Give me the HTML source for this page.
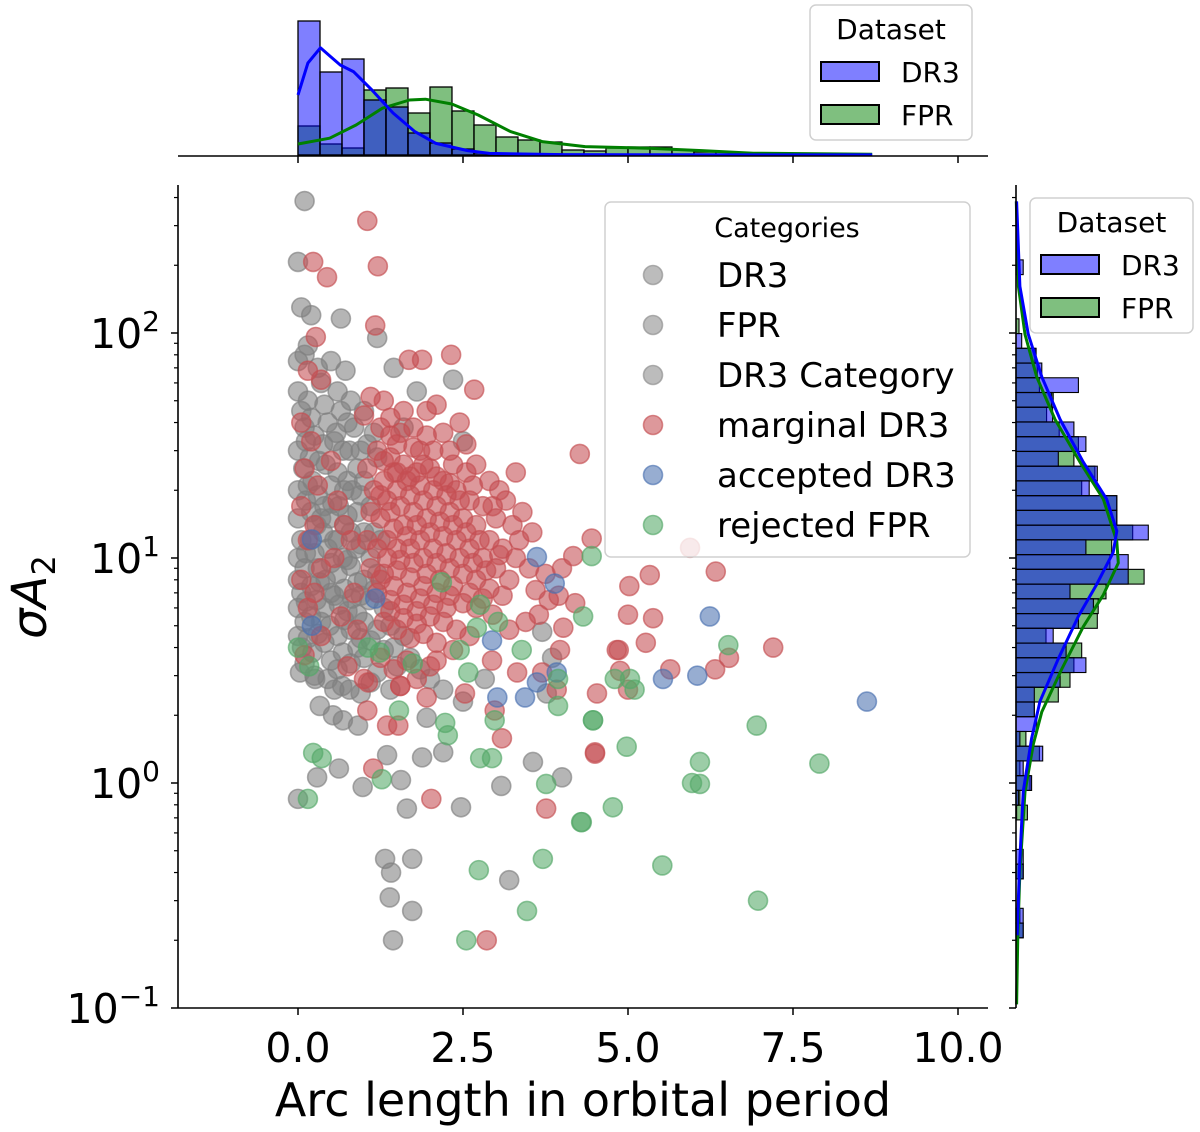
<!DOCTYPE html>
<html><head><meta charset="utf-8"><style>
html,body{margin:0;padding:0;background:#fff;}
svg{display:block;font-family:"DejaVu Sans","Liberation Sans",sans-serif;}
</style></head><body>
<svg id="chart" width="1200" height="1132" viewBox="0 0 1200 1132">
<g id="topHist"></g>
<g id="rightHist"></g>
<g id="points"></g>
<g id="axes"></g>
<g id="legends"></g>
</svg>
<script>
// ---------- data ----------
const xTicks = [0, 2.5, 5, 7.5, 10];
const xTickLabels = ["0.0", "2.5", "5.0", "7.5", "10.0"];
const yDecades = [-1, 0, 1, 2];
const yTickLabels = ["-1", "0", "1", "2"];

const topBinWidth = 0.3333;
const topBlueCounts = [67,41.5,48,27.5,24,11,6,3,1,0.5,0,0.5,0,0,0,0,0,0,0,0,0,0,0,0,0,0.5];
const topGreenCounts = [14.5,5.5,3.5,32.5,33.5,21,34,22,15,9,7.5,6.5,2.5,2,3.5,4,4,2.5,1.5,1.5,1,1,0.5,0.5,0.5,0.5];
const topBlueKdeX = [0,0.15,0.34,0.5,0.64,0.84,1.12,1.44,1.77,2.09,2.57,2.9,4,6,8.7];
const topBlueKdeY = [30,46,53.6,49,45,41.7,32.5,21,11.7,5.8,2.2,0.8,0.2,0.1,0.05];
const topGreenKdeX = [0,0.48,0.88,1.28,1.69,1.93,2.33,2.73,3.22,3.7,4.35,5.31,6.12,6.9,8.7];
const topGreenKdeY = [5.5,8.4,15,23.4,27.5,27.9,25.5,20,11.7,6.7,4.2,3.4,2.2,0.9,0.4];

const rightBinTop = 2.325;
const rightBinWidth = 0.0655;
const rightBlueCounts = [2.4,0,0,0,0,1.9,6.7,8.6,20.8,11.9,12.2,19.3,23.3,14.1,27.1,24.4,33.6,33.6,44.1,23.3,37.4,37.4,18,25.8,20.8,12.4,16.7,23.3,14.7,6.1,6.1,6.9,1.3,8.9,2.4,5.2,0.8,0.2,0,0,2.4,2.4,0,0,2.4,2.4];
const rightGreenCounts = [0,0,0,0,1,0,6.3,7.1,7.8,12.4,10.2,14.4,20.8,19.3,26.3,21.9,33.6,33.6,38.9,31.9,31.3,42.7,30,27.4,27.1,10,21.9,19.3,18,14.1,6.1,0,3.3,7.8,1.3,4.7,1.3,3.8,0,0,0,2.4,0,0,1.3,2.4];
const rightBlueKdeLog = [2.585,2.207,1.994,1.805,1.616,1.427,1.262,1.12,1.025,0.883,0.741,0.552,0.363,0.198,-0.039,-0.393,-0.677];
const rightBlueKdeD = [0.2,1.3,4.1,8.6,14.7,22.4,30.2,33.6,32.4,26.9,20.8,14.1,8,5.2,2.4,1.1,0.4];
const rightGreenKdeLog = [2.585,2.207,1.994,1.805,1.616,1.427,1.262,1.073,0.978,0.836,0.694,0.505,0.316,0.174,-0.039,-0.393,-0.677,-0.984];
const rightGreenKdeD = [0.1,0.8,3,6.9,13,21.3,29.1,33.6,34.1,29.1,22.4,15.2,8.6,5.8,3,1.3,0.6,0.2];

const grayPoints = [[0,55],[0.05,45],[0.1,38],[0,30],[0.08,25],[0,20],[0.12,18],[0,15],[0.05,12],[0,10],[0.1,9],[0,8],[0.05,7],[0,6],[0.1,5.2],[0,4.5],[0.06,4],[0.15,50],[0.2,42],[0.25,35],[0.18,28],[0.22,22],[0.3,19],[0.2,16],[0.28,14],[0.18,12],[0.25,10.5],[0.3,9],[0.2,7.5],[0.28,6.5],[0.2,5.5],[0.3,4.6],[0.22,3.8],[0.35,60],[0.4,48],[0.45,40],[0.38,32],[0.42,26],[0.5,21],[0.4,17],[0.48,15],[0.38,13],[0.45,11],[0.5,9.5],[0.42,8],[0.5,7],[0.4,6],[0.48,5],[0.4,4.2],[0.5,3.5],[0.6,55],[0.65,45],[0.58,36],[0.68,30],[0.6,24],[0.7,20],[0.62,17],[0.7,14],[0.6,12],[0.68,10],[0.6,8.5],[0.7,7.3],[0.62,6.2],[0.7,5.3],[0.6,4.5],[0.68,3.8],[0.6,3.2],[0.8,50],[0.85,38],[0.78,30],[0.9,25],[0.82,20],[0.9,16],[0.8,13],[0.88,11],[0.8,9.2],[0.9,7.8],[0.82,6.6],[0.9,5.6],[0.8,4.8],[0.9,4],[0.8,3.4],[1.0,45],[1.05,32],[1.0,22],[1.1,17],[1.0,13],[1.1,10],[1.0,8],[1.08,6.5],[1.0,5.2],[1.1,4.3],[1.0,3.6],[1.2,28],[1.25,12],[1.2,8.5],[1.3,6],[1.2,4.8],[1.3,3.9],[1.2,3.1],[1.4,5],[1.45,4],[1.5,3.3],[1.6,4.5],[1.7,3.6],[1.85,3.2],[2.0,2.9],[1.4,2.6],[0.1,3.4],[0.25,3.0],[0.45,2.9],[0.55,2.6],[0.78,2.6],[0.95,2.5],[1.1,2.8],[0.3,70],[0.1,80],[0.15,88],[0,75],[0.5,75],[0.05,130],[0.2,120],[0,207],[0.1,386],[0.65,116],[1.2,95],[0.72,68],[2.35,62],[2.5,33],[1.45,70],[3.7,4.7],[3.85,3.6],[1.8,55],[1.6,38],
[0.03,3.1],[0.26,2.9],[0.67,2.7],[0.33,2.2],[0.53,2.0],[0.68,1.9],[0.91,1.8],[1.35,1.33],[1.88,1.3],[2.2,1.37],[1.95,1.95],[0.29,1.06],[0.62,1.16],[0.98,0.96],[1.56,1.03],[0,0.85],[1.65,0.77],[2.47,0.78],[3.08,0.97],[3.56,1.24],[4.0,1.06],[1.32,0.46],[1.73,0.46],[1.41,0.4],[3.2,0.37],[1.39,0.31],[1.73,0.27],[1.44,0.2],[2.5,2.3],[2.83,2.9],[2.2,2.6],[3.77,2.5],
[0.12,33],[0.32,27],[0.15,21],[0.35,15],[0.12,10.5],[0.33,7.8],[0.12,6.4],[0.55,33],[0.52,17.5],[0.55,12],[0.55,6.8],[0.75,40],[0.75,22],[0.75,15.5],[0.75,9.8],[0.75,5.8],[0.95,30],[0.95,19],[0.95,11.5],[0.95,6.8],[0.95,4.4],[1.15,36],[1.15,13],[1.15,7.2],[0.35,5.2],[0.15,4.4]];

const redPoints = [[1.05,315],[1.21,198],[0.23,207],[0.44,177],[0.27,96],[1.17,108],[1.68,76],[1.88,76],[2.32,80],[2.67,56],[4.27,29],[0.15,68],[0.35,62],[0.05,40],[0.2,33],[0.1,25],[0.3,21],[0.05,17],[0.25,14],[0.15,12],[0.35,9],[0.05,8],[0.25,7],[0.15,6],[0.35,4.5],[0.1,3.7],[0.5,27],[0.6,18],[0.7,14],[0.55,10],[0.8,12],[0.85,7],[0.65,5.5],[0.9,4.8],[0.75,3.3],[1.0,43],[1.1,52],[1.3,50],[1.25,38],[1.4,42],[1.5,32],[1.6,45],[1.75,38],[1.85,30],[1.95,45],[2.1,48],[2.2,36],[2.3,30],[2.45,40],[2.55,24],[2.7,26],[2.9,22],[3.05,20],[3.3,24],[3.4,16],[3.55,13],[3.25,14],[3.0,15],[2.8,17],[2.6,18],[2.4,20],[2.2,22],[2.0,25],[1.8,24],[1.6,26],[1.4,28],[1.2,30],[1.05,25],[1.15,20],[1.3,22],[1.5,20],[1.7,19],[1.9,18],[2.1,17],[2.3,16],[2.5,15],[2.7,14],[2.9,12],[3.1,11],[3.3,10],[3.5,9],[1.1,16],[1.25,15],[1.4,16],[1.6,14],[1.8,14],[2.0,13],[2.2,12.5],[2.4,12],[2.6,11],[2.8,10],[3.0,9],[3.2,8],[1.05,12],[1.2,11],[1.35,12],[1.5,11],[1.7,11],[1.9,10],[2.1,9.5],[2.3,9],[2.5,8.5],[2.7,8],[2.9,7.3],[3.1,6.8],[1.1,9],[1.3,8.5],[1.5,8.8],[1.7,8.2],[1.9,7.5],[2.1,7],[2.3,6.8],[2.5,6.3],[2.7,6],[2.95,5.6],[1.2,7],[1.4,6.5],[1.6,6.2],[1.8,5.8],[2.0,5.5],[2.2,5.2],[2.4,4.8],[2.6,4.5],[3.2,4.8],[3.45,5.2],[1.3,5.2],[1.5,4.8],[1.7,4.4],[1.9,4.6],[2.1,4.2],[2.35,3.9],[1.25,3.6],[1.45,3.2],[1.65,3.5],[1.8,2.9],[1.55,2.7],[1.0,2.9],[2.0,3.3],[3.6,7.2],[3.8,6.5],[3.65,5.6],[3.95,6.8],[3.75,8.5],[4.0,9],[1.35,18],[1.55,17],[1.75,16],[1.95,15],[2.15,14.5],[2.35,14],[2.55,13],[2.75,12],[1.45,24],[1.65,22],[1.85,21],[2.05,20],[2.25,19],[2.45,18],[1.95,35],[1.55,36],[2.35,26],[2.65,21],[2.95,17],[3.15,18],
[4.45,12.2],[4.17,10.2],[5.33,8.4],[5.02,7.5],[6.33,8.7],[5.0,5.6],[5.38,5.4],[5.27,4.2],[4.86,3.9],[5.64,3.2],[6.32,3.2],[6.53,3.6],[7.2,4.0],[4.53,2.5],[5.0,2.6],[4.5,1.37],[4.2,6.3],[4.02,4.9],[4.88,3.15],[5.94,11.1],
[1.05,2.1],[1.14,1.16],[2.02,0.85],[2.86,0.2],[3.76,0.77],[4.5,1.35],[3.09,1.58],[1.95,2.4],[1.35,1.8],[1.52,1.8],[2.98,2.1],[3.32,3.1],[3.7,3.1],[2.53,2.5],[3.92,2.6],[1.06,2.8],[1.55,2.7],[2.1,3.5],[2.94,3.5],[3.97,3.9],[4.83,3.9],
[1.3,27],[1.5,24],[1.7,23],[1.9,26],[2.1,23],[2.3,21.5],[1.25,19],[1.45,13.5],[1.65,12.5],[1.85,12],[2.05,11],[2.25,10.5],[2.45,10],[1.35,10],[1.55,9.8],[1.75,9.5],[1.95,8.5],[2.15,8],[2.35,7.5],[1.25,8],[1.45,7.5],[1.65,7],[1.85,6.6],[2.05,6.2],[2.25,6],[1.4,5.8],[1.6,5.4],[1.8,5.1],[2.6,7],[2.8,6.6],[2.65,9.5],[2.85,8.8],[3.05,10.3],[3.35,12],[1.75,31],[2.05,30],[2.55,32],[1.4,35]];

const bluePoints = [[0.21,12.1],[1.17,6.6],[0.21,5.0],[3.62,10.1],[3.89,7.7],[6.24,5.5],[5.53,2.9],[6.05,3.0],[8.62,2.3],[3.02,2.4],[3.44,2.4],[3.62,2.8],[3.92,3.1],[2.94,4.3]];

const greenPoints = [[0,4.0],[0.17,3.3],[0.23,1.36],[0.36,1.29],[0.15,0.85],[1.27,1.04],[1.53,2.1],[1.74,3.4],[2.23,1.85],[2.27,1.63],[2.76,1.29],[2.94,1.29],[2.98,1.9],[3.76,0.99],[3.94,2.2],[4.47,1.9],[4.3,0.67],[4.77,0.78],[2.74,0.41],[3.71,0.46],[3.47,0.27],[2.55,0.2],[2.45,3.9],[2.58,3.1],[3.94,2.9],[3.39,3.9],[1.06,4.0],[1.24,3.8],
[4.45,10.2],[4.32,5.5],[6.52,4.1],[4.8,2.9],[5.1,2.6],[5.03,2.9],[4.47,1.9],[4.98,1.45],[6.09,1.24],[5.97,1.0],[6.09,0.99],[6.95,1.8],[7.9,1.22],[4.29,0.67],[5.52,0.43],[6.97,0.3],[2.18,7.8],[2.76,6.2],[3.03,5.2],[2.71,4.9]];

const categories = ["DR3","FPR","DR3 Category","marginal DR3","accepted DR3","rejected FPR"];
const categoryColors = ["#8c8c8c","#8c8c8c","#8c8c8c","#c44e52","#4c72b0","#55a868"];

// ---------- scales ----------
const NS = "http://www.w3.org/2000/svg";
const X0 = 298, XU = 66;
const xS = v => X0 + XU * v;
const Y100 = 333, DEC = 225;
const yLog = l => Y100 - DEC * (l - 2);
const yS = v => yLog(Math.log10(v));
const TOPBASE = 155, TOPU = 2;
const topY = c => TOPBASE - TOPU * c;
const RBASE = 1016, RU = 3;
const rightX = c => RBASE + RU * c;

function mk(tag, attrs, parent) {
  const e = document.createElementNS(NS, tag);
  for (const k in attrs) e.setAttribute(k, attrs[k]);
  parent.appendChild(e);
  return e;
}
function txt(parent, x, y, s, size, anchor) {
  const t = mk("text", {x: x, y: y, "font-size": size, "text-anchor": anchor || "start", fill: "#000"}, parent);
  t.textContent = s;
  return t;
}

// ---------- top histogram ----------
const gT = document.getElementById("topHist");
[[topGreenCounts, "rgba(0,128,0,0.5)", "fpr"], [topBlueCounts, "rgba(0,0,255,0.5)", "dr3"]].forEach(([arr, col, nm]) => {
  arr.forEach((c, i) => {
    if (c <= 0) return;
    const r = mk("rect", {x: xS(i * topBinWidth), y: topY(c), width: XU * topBinWidth, height: TOPU * c, fill: col, stroke: "#000", "stroke-width": 1.3}, gT);
    
    
  });
});
function topLine(xs, ys, col, nm) {
  const p = mk("polyline", {points: xs.map((x, i) => xS(x) + "," + topY(ys[i])).join(" "), fill: "none", stroke: col, "stroke-width": 3, "stroke-linejoin": "round"}, gT);
  
  
}
topLine(topGreenKdeX, topGreenKdeY, "#008000", "top-kde-fpr");
topLine(topBlueKdeX, topBlueKdeY, "#0000ff", "top-kde-dr3");

// ---------- right histogram ----------
const gR = document.getElementById("rightHist");
[[rightGreenCounts, "rgba(0,128,0,0.5)", "fpr"], [rightBlueCounts, "rgba(0,0,255,0.5)", "dr3"]].forEach(([arr, col, nm]) => {
  arr.forEach((c, k) => {
    if (c <= 0) return;
    const top = rightBinTop - k * rightBinWidth;
    const y1 = yLog(top), y2 = yLog(top - rightBinWidth);
    const r = mk("rect", {x: RBASE, y: y1, width: RU * c, height: y2 - y1, fill: col, stroke: "#000", "stroke-width": 1.1}, gR);
    
    
  });
});
function rightLine(ls, ds, col, nm) {
  const p = mk("polyline", {points: ls.map((l, i) => rightX(ds[i]) + "," + yLog(l)).join(" "), fill: "none", stroke: col, "stroke-width": 3, "stroke-linejoin": "round"}, gR);
  
  
}
rightLine(rightGreenKdeLog, rightGreenKdeD, "#008000", "right-kde-fpr");
rightLine(rightBlueKdeLog, rightBlueKdeD, "#0000ff", "right-kde-dr3");

// ---------- scatter ----------
const gP = document.getElementById("points");
[[grayPoints, "#808080", "gray"], [redPoints, "#c44e52", "marginal-dr3"], [bluePoints, "#4c72b0", "accepted-dr3"], [greenPoints, "#55a868", "rejected-fpr"]].forEach(([pts, col, nm]) => {
  pts.forEach(p => {
    const c = mk("circle", {cx: xS(p[0]), cy: yS(p[1]), r: 9.5, fill: col, "fill-opacity": 0.58, stroke: col, "stroke-opacity": 0.65, "stroke-width": 1.6}, gP);
    
    
  });
});

// ---------- axes ----------
const gA = document.getElementById("axes");
const ln = (x1, y1, x2, y2, w, nm) => {
  const l = mk("line", {x1, y1, x2, y2, stroke: "#000", "stroke-width": w || 1.5}, gA);
  
  
  return l;
};
ln(178, 185, 178, 1008, 1.6, "y-axis-line");
ln(178, 1008, 988, 1008, 1.6, "x-axis-line");
ln(178, 156, 988, 156, 1.6, "top-marginal-baseline");
ln(1016, 185, 1016, 1008, 1.6, "right-marginal-baseline");
xTicks.forEach((v, i) => {
  ln(xS(v), 1008, xS(v), 1015, 1.5, "x-tick");
  ln(xS(v), 156, xS(v), 163, 1.5, "top-x-tick");
  const t = txt(gA, xS(v), 1062, xTickLabels[i], 41, "middle");
  
  
});
yDecades.forEach((d, i) => {
  ln(171, yLog(d), 178, yLog(d), 1.5, "y-tick-major");
  ln(1009, yLog(d), 1016, yLog(d), 1.5, "right-y-tick-major");
  const t = mk("text", {x: 160, y: yLog(d) + 15, "font-size": 41, "text-anchor": "end", fill: "#000"}, gA);
  
  
  const a = mk("tspan", {}, t); a.textContent = "10";
  const b = mk("tspan", {dy: -17, "font-size": 28}, t); b.textContent = yTickLabels[i].replace("-", "\u2212");
});
for (let d = -1; d < 3; d++) for (let m = 2; m <= 9; m++) {
  const l = d + Math.log10(m);
  if (yLog(l) < 185) continue;
  ln(174, yLog(l), 178, yLog(l), 1.2, "y-tick-minor");
  ln(1012, yLog(l), 1016, yLog(l), 1.2, "right-y-tick-minor");
}
const xl = txt(gA, 583, 1116, "Arc length in orbital period", 46, "middle");


const yl = mk("text", {x: 0, y: 0, "font-size": 48, "text-anchor": "middle", transform: "translate(46,597) rotate(-90)", fill: "#000"}, gA);


const y1s = mk("tspan", {"font-style": "italic"}, yl); y1s.textContent = "\u03c3A";
const y2s = mk("tspan", {"font-size": 32, dy: 9}, yl); y2s.textContent = "2";

// ---------- legends ----------
const gL = document.getElementById("legends");
function box(x, y, w, h, nm) {
  const r = mk("rect", {x, y, width: w, height: h, rx: 6, fill: "rgba(255,255,255,0.8)", stroke: "#d0d0d0", "stroke-width": 1.5}, gL);
  
  
}
box(605, 202, 365, 355, "category-legend");
let t0 = txt(gL, 787, 237, "Categories", 27, "middle");
 
categories.forEach((c, i) => {
  const y = 275 + 50 * i;
  const m = mk("circle", {cx: 653, cy: y, r: 9.5, fill: categoryColors[i], "fill-opacity": 0.58, stroke: categoryColors[i], "stroke-opacity": 0.65, "stroke-width": 1.6}, gL);
  
  
  const t = txt(gL, 717, y + 12, c, 34);
  
  
});
function dsLegend(x, y, w, h, px, pw, nm) {
  box(x, y, w, h, nm);
  const t = txt(gL, x + w / 2, y + 34, "Dataset", 28, "middle");
   
  [["DR3", "rgba(0,0,255,0.5)"], ["FPR", "rgba(0,128,0,0.5)"]].forEach(([s, col], i) => {
    const yy = y + 57 + 43 * i;
    const r = mk("rect", {x: px, y: yy, width: pw, height: 19, fill: col, stroke: "#000", "stroke-width": 2}, gL);
    
    
    const tt = txt(gL, px + pw + 22, yy + 20, s, 28);
    
    
  });
}
dsLegend(810, 5, 162, 135, 821, 58, "top-dataset-legend");
dsLegend(1030, 198, 163, 135, 1041, 58, "right-dataset-legend");
</script>
</body></html>
